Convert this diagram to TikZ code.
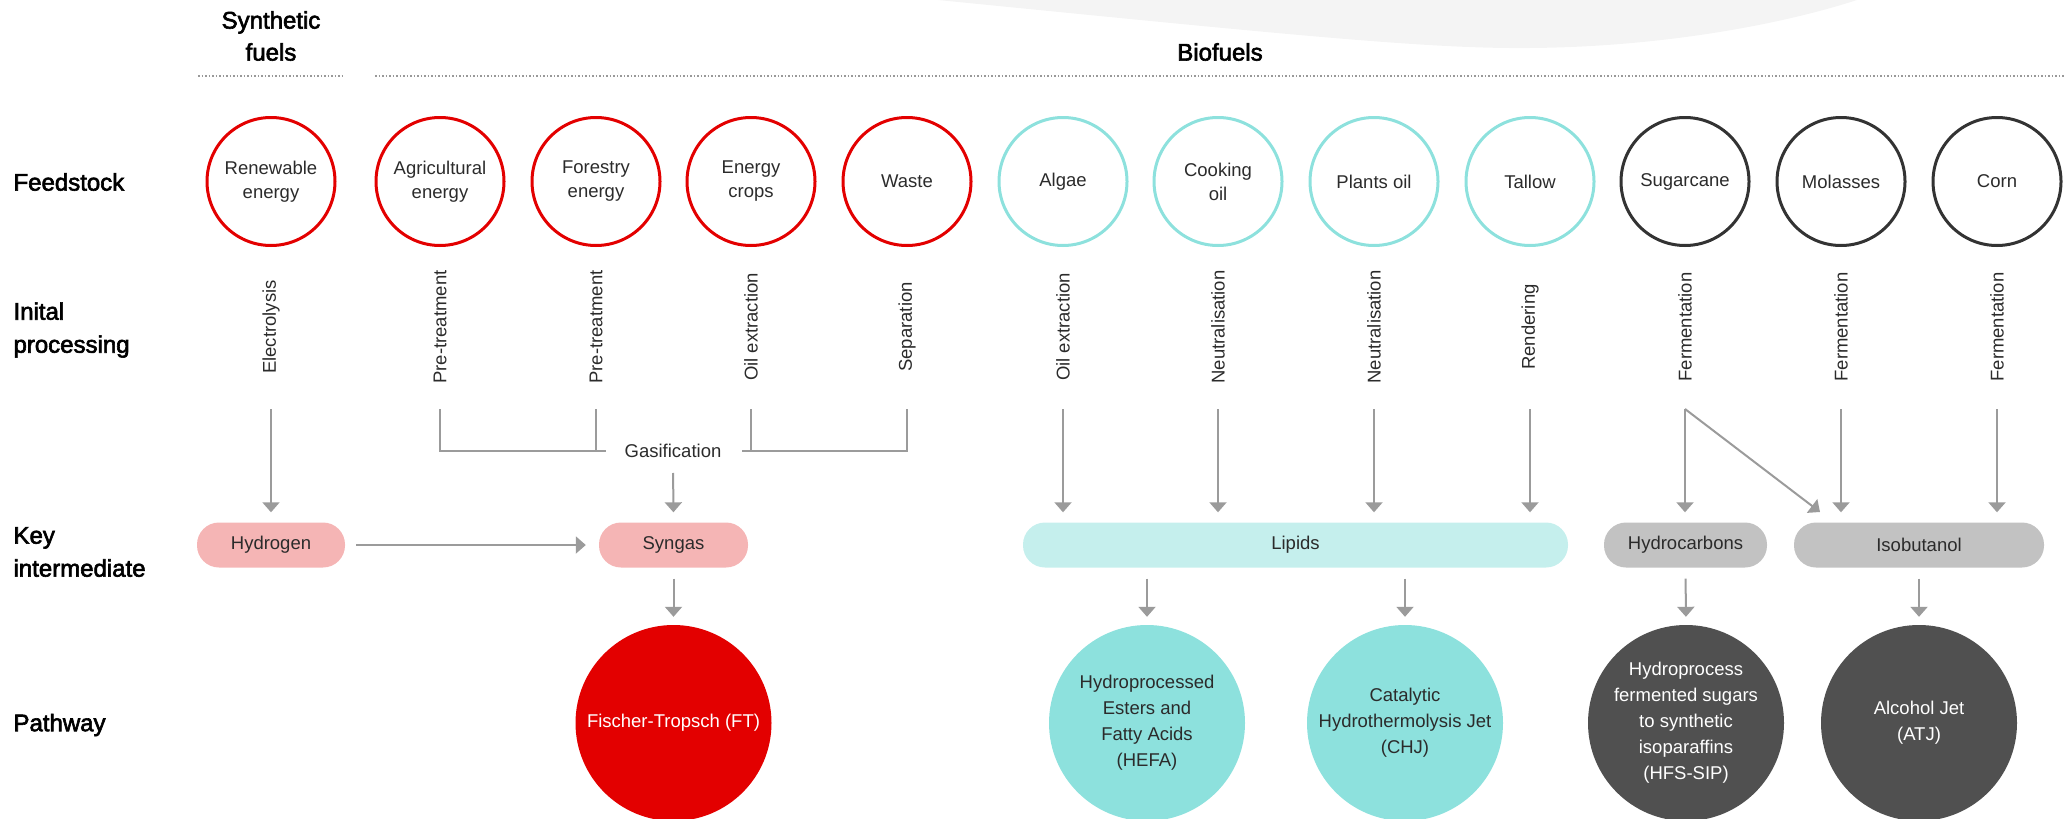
\documentclass[tikz,border=0pt]{standalone}
\usepackage{fontspec}
\setmainfont{Liberation Sans}
\newfontfamily\medfont[FakeBold=2.5]{Liberation Sans}
\usetikzlibrary{arrows.meta}
\definecolor{fuelred}{HTML}{E30000}
\definecolor{fuelpink}{HTML}{F5B5B5}
\definecolor{biocyan}{HTML}{8DE1DD}
\definecolor{lipidcyan}{HTML}{C5EFED}
\definecolor{sugardark}{HTML}{333333}
\definecolor{sugargray}{HTML}{C2C2C2}
\definecolor{pathdark}{HTML}{505050}
\definecolor{arrowgray}{HTML}{9B9B9B}
\definecolor{wavegray}{HTML}{F4F4F4}
\definecolor{textdark}{HTML}{2B2B2B}

\tikzset{
    feed/.style={circle, draw, line width=3pt, minimum size=128pt, inner sep=0pt,
        align=center, text=textdark, font=\fontsize{18.5}{24}\selectfont},
    feedred/.style={feed, draw=fuelred},
    feedcyan/.style={feed, draw=biocyan},
    feeddark/.style={feed, draw=sugardark},
    proc/.style={rotate=90, inner sep=0pt, text=textdark, font=\fontsize{18.5}{22}\selectfont},
    inter/.style={rectangle, rounded corners=22pt, minimum height=45pt, inner sep=0pt,
        text=textdark, font=\fontsize{18.5}{22}\selectfont},
    pathway/.style={circle, minimum size=196pt, inner sep=0pt, align=center,
        font=\fontsize{18.5}{26}\selectfont},
    rowlabel/.style={anchor=west, align=left, text=black, font=\medfont\fontsize{24}{33}\selectfont},
    flow/.style={draw=arrowgray, line width=2pt, -{Triangle[width=17pt,length=10pt]}},
    bracket/.style={draw=arrowgray, line width=2pt},
    dotline/.style={draw=black!40, line width=2pt, dash pattern=on 1.5pt off 2pt}
}

\begin{document}
\begin{tikzpicture}[x=1pt, y=-1pt]
    \useasboundingbox (0,0) rectangle (2069,819);

    % light background swoosh at the top
    \fill[wavegray] (938,0) .. controls (1300,36) and (1430,49) .. (1530,48)
        .. controls (1660,47) and (1780,25) .. (1857,0) -- cycle;

    % group headers
    \node[rowlabel, anchor=center, align=center, font=\medfont\fontsize{24}{32}\selectfont] (synth) at (271,36) {Synthetic\\fuels};
    \node[rowlabel, anchor=center] (bio) at (1220,52) {Biofuels};
    \draw[dotline] (198,76) -- (345,76);
    \draw[dotline] (375,76) -- (2064,76);

    % row labels
    \node[rowlabel] (rfeed) at (10,182) {Feedstock};
    \node[rowlabel] (rproc) at (10,330) {Inital\\processing};
    \node[rowlabel] (rkey) at (10,552) {Key\\intermediate};
    \node[rowlabel] (rpath) at (10,725) {Pathway};

    % feedstock circles
    \foreach \x/\n/\lbl/\sty in {271/renew/{Renewable\\energy}/feedred,
            440/agri/{Agricultural\\energy}/feedred, 596/forest/{Forestry\\energy}/feedred,
            751/crops/{Energy\\crops}/feedred, 907/waste/Waste/feedred,
            1063/algae/Algae/feedcyan, 1218/cook/{Cooking\\oil}/feedcyan,
            1374/plants/Plants oil/feedcyan, 1530/tallow/Tallow/feedcyan,
            1685/sugar/Sugarcane/feeddark, 1841/molas/Molasses/feeddark,
            1997/corn/Corn/feeddark}
        \node[\sty] (\n) at (\x,181.5) {\lbl};

    % initial processing, with the start of each arrow below it
    \foreach \x/\n/\lbl in {271/el/Electrolysis, 440/pt1/Pre-treatment, 596/pt2/Pre-treatment,
            751/oe1/Oil extraction, 907/sep/Separation, 1063/oe2/Oil extraction,
            1218/neu1/Neutralisation, 1374/neu2/Neutralisation, 1530/rend/Rendering,
            1685/fer1/Fermentation, 1841/fer2/Fermentation, 1997/fer3/Fermentation} {
        \node[proc] (\n) at (\x,327) {\lbl};
        \coordinate (s-\n) at (\x,409);
    }

    % key intermediates
    \node[inter, fill=fuelpink, minimum width=148pt] (hydrogen) at (271,545) {Hydrogen};
    \node[inter, fill=fuelpink, minimum width=149pt] (syngas) at (673.5,545) {Syngas};
    \node[inter, fill=lipidcyan, minimum width=545pt] (lipids) at (1295.5,545) {Lipids};
    \node[inter, fill=sugargray, minimum width=163pt] (hydrocarb) at (1685.5,545) {Hydrocarbons};
    \node[inter, fill=sugargray, minimum width=250pt] (isobut) at (1919,545) {Isobutanol};

    % pathways
    \node[pathway, fill=fuelred, text=white] (ft) at (673.5,723) {Fischer-Tropsch (FT)};
    \node[pathway, fill=biocyan, text=textdark] (hefa) at (1147,723) {Hydroprocessed\\Esters and\\Fatty Acids\\(HEFA)};
    \node[pathway, fill=biocyan, text=textdark] (chj) at (1405,723) {Catalytic\\Hydrothermolysis Jet\\(CHJ)};
    \node[pathway, fill=pathdark, text=white] (hfs) at (1686,723) {Hydroprocess\\fermented sugars\\to synthetic\\isoparaffins\\(HFS-SIP)};
    \node[pathway, fill=pathdark, text=white] (atj) at (1919,723) {Alcohol Jet\\(ATJ)};

    % gasification bracket
    \node[inner sep=0pt, text=textdark, font=\fontsize{18.5}{22}\selectfont] (gasif) at (673,451) {Gasification};
    \draw[bracket] (s-pt1) |- ([xshift=-18pt]gasif.west);
    \draw[bracket] (s-pt2) -- (s-pt2 |- gasif);
    \draw[bracket] (s-sep) |- ([xshift=20pt]gasif.east);
    \draw[bracket] (s-oe1) -- (s-oe1 |- gasif);
    \draw[flow, shorten <=15pt, shorten >=10pt] (gasif.south) -- (syngas.north);

    % arrows into the key intermediates
    \draw[flow, shorten >=10pt] (s-el) -- (hydrogen.north);
    \draw[flow, shorten <=11pt, shorten >=13pt] (hydrogen) -- (syngas);
    \foreach \n in {oe2,neu1,neu2,rend}
        \draw[flow, shorten >=10pt] (s-\n) -- (s-\n |- lipids.north);
    \draw[flow, shorten >=10pt] (s-fer1) -- (s-fer1 |- hydrocarb.north);
    \coordinate (isoin) at (1820,512);
    \draw[flow] (s-fer1) -- (isoin);
    \foreach \n in {fer2,fer3}
        \draw[flow, shorten >=10pt] (s-\n) -- (s-\n |- isobut.north);

    % arrows into the pathways
    \draw[flow, shorten <=11pt, shorten >=8pt] (syngas.south) -- (ft.north);
    \draw[flow, shorten <=11pt, shorten >=8pt] (hefa |- lipids.south) -- (hefa.north);
    \draw[flow, shorten <=11pt, shorten >=8pt] (chj |- lipids.south) -- (chj.north);
    \draw[flow, shorten <=11pt, shorten >=8pt] (hydrocarb.south) -- (hfs.north);
    \draw[flow, shorten <=11pt, shorten >=8pt] (isobut.south) -- (atj.north);
\end{tikzpicture}
\end{document}
